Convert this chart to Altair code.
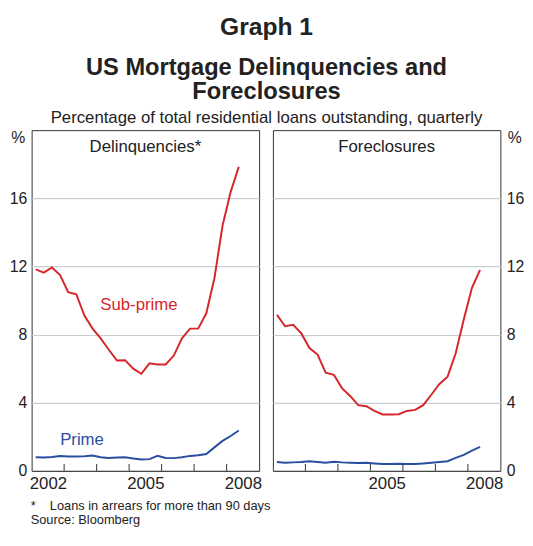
import altair as alt
import pandas as pd

# ---------------- data ----------------
YEARS = [2002, 2003, 2004, 2005, 2006, 2007, 2008]
QUARTERS = [1, 2, 3, 4]
N_OBS = 26  # 2002 Q1 .. 2008 Q2

DELINQ_SUBPRIME = [11.83, 11.64, 11.94, 11.50, 10.49, 10.36, 9.12, 8.35, 7.78, 7.11,
                   6.48, 6.50, 6.00, 5.70, 6.31, 6.25, 6.25, 6.77, 7.78, 8.35,
                   8.35, 9.25, 11.31, 14.40, 16.38, 17.85]
DELINQ_PRIME = [0.80, 0.78, 0.82, 0.88, 0.84, 0.84, 0.86, 0.90, 0.80, 0.76,
                0.78, 0.80, 0.73, 0.67, 0.69, 0.88, 0.76, 0.75, 0.80, 0.88,
                0.92, 0.99, 1.38, 1.76, 2.05, 2.37]
FORECL_SUBPRIME = [9.16, 8.49, 8.58, 8.07, 7.21, 6.83, 5.77, 5.64, 4.86, 4.40,
                   3.86, 3.80, 3.52, 3.31, 3.31, 3.33, 3.52, 3.58, 3.86, 4.47,
                   5.10, 5.53, 6.90, 8.90, 10.75, 11.80]
FORECL_PRIME = [0.52, 0.48, 0.50, 0.52, 0.57, 0.52, 0.48, 0.54, 0.50, 0.48,
                0.46, 0.48, 0.44, 0.40, 0.40, 0.42, 0.40, 0.40, 0.44, 0.48,
                0.52, 0.57, 0.76, 0.94, 1.19, 1.41]

SERIES = ["Sub-prime", "Prime"]
PANEL_TITLES = ["Delinquencies*", "Foreclosures"]
Y_TICKS = [0, 4, 8, 12, 16]
X_TICK_YEARS = [2003, 2004, 2005, 2006, 2007, 2008]
LEFT_X_LABELS = [2002, 2005, 2008]
RIGHT_X_LABELS = [2005, 2008]

TITLE_TOP = "Graph 1"
TITLE_MAIN = ["US Mortgage Delinquencies and", "Foreclosures"]
SUBTITLE = "Percentage of total residential loans outstanding, quarterly"
FOOTNOTES = ["*\u00a0\u00a0\u00a0\u00a0Loans in arrears for more than 90 days", "Source: Bloomberg"]

# ---------------- build tables ----------------
dates = []
for y in YEARS:
    for q in QUARTERS:
        dates.append(y + (q - 0.5) / 4)
dates = dates[:N_OBS]


def long_table(sub, prime):
    rows = []
    for d, v in zip(dates, sub):
        rows.append({"date": d, "value": v, "series": SERIES[0]})
    for d, v in zip(dates, prime):
        rows.append({"date": d, "value": v, "series": SERIES[1]})
    return pd.DataFrame(rows)


df_del = long_table(DELINQ_SUBPRIME, DELINQ_PRIME)
df_for = long_table(FORECL_SUBPRIME, FORECL_PRIME)
df_labels = pd.DataFrame({"label": SERIES, "series": SERIES,
                          "x": [2005.3, 2003.55], "y": [9.75, 1.8]})

RED = "#d7262b"
BLUE = "#2b4f9f"
FONT = "Liberation Sans"
W, H = 231, 346
FS = 17
YFS = 16

color_scale = alt.Scale(domain=SERIES, range=[RED, BLUE])
x_scale = alt.Scale(domain=[2002, 2009], nice=False, zero=False)
y_scale = alt.Scale(domain=[0, 20], nice=False)


def panel(df, title, side, x_labels, foot):
    x_axis = alt.Axis(values=x_labels, format="d", labelOffset=16.5, ticks=False, grid=False,
                      domainColor="#333", labelFontSize=FS, labelPadding=5, title=None,
                      labelFlush=False, labelOverlap=False, labelColor="#222")
    y_axis = alt.Axis(values=Y_TICKS, orient=side, ticks=False, domain=False, grid=True,
                      gridColor="#c9cdd1", gridWidth=1.2, labelFontSize=YFS,
                      labelPadding=5 if side == "left" else 6, labelColor="#222",
                      title="%", titleAngle=0, titleFontSize=YFS, titleFontWeight="normal",
                      titleAlign="center", titleBaseline="middle", titleColor="#222",
                      titleX=-14 if side == "left" else 14, titleY=8)
    lines = alt.Chart(df).mark_line(strokeWidth=2).encode(
        x=alt.X("date:Q", scale=x_scale, axis=x_axis),
        y=alt.Y("value:Q", scale=y_scale, axis=y_axis),
        color=alt.Color("series:N", scale=color_scale, legend=None),
        detail="series:N",
    )
    ticks = alt.Chart(pd.DataFrame({"year": X_TICK_YEARS})).mark_rule(
        color="#333", strokeWidth=1).encode(
        x=alt.X("year:Q", scale=x_scale), y=alt.value(H), y2=alt.value(H - 7))
    ptitle = alt.Chart(pd.DataFrame({"t": [title]})).mark_text(
        fontSize=FS, font=FONT, color="#222", baseline="middle").encode(
        x=alt.value(W / 2), y=alt.value(17), text="t:N")
    layers = [lines, ticks, ptitle]
    if foot:
        lab = alt.Chart(df_labels).mark_text(fontSize=FS, font=FONT, baseline="middle").encode(
            x=alt.X("x:Q", scale=x_scale), y=alt.Y("y:Q", scale=y_scale), text="label:N",
            color=alt.Color("series:N", scale=color_scale, legend=None))
        layers.append(lab)
        for i, note in enumerate(FOOTNOTES):
            fn = alt.Chart(pd.DataFrame({"t": [note]})).mark_text(
                fontSize=13, font=FONT, color="#222", align="left",
                baseline="alphabetic").encode(
                x=alt.value(-1), y=alt.value(H + 40 + 14 * i), text="t:N")
            layers.append(fn)
    return alt.layer(*layers).properties(width=W, height=H)


left = panel(df_del, PANEL_TITLES[0], "left", LEFT_X_LABELS, True)
right = panel(df_for, PANEL_TITLES[1], "right", RIGHT_X_LABELS, False)

inner = alt.hconcat(left, right, spacing=0).properties(
    title=alt.TitleParams(text=TITLE_MAIN, subtitle=SUBTITLE, fontSize=24, font=FONT,
                          fontWeight="bold", lineHeight=25, subtitleFontSize=FS,
                          subtitleFont=FONT, subtitleColor="#222", subtitlePadding=6,
                          color="#222", anchor="middle", offset=4))

chart = alt.vconcat(inner).properties(
    title=alt.TitleParams(text=TITLE_TOP, fontSize=25, font=FONT, fontWeight="bold",
                          color="#222", anchor="middle", offset=16),
    padding={"left": 0, "top": 3, "right": 0, "bottom": 0},
).configure(font=FONT).configure_view(stroke="#333", strokeWidth=1).configure_concat(spacing=0)

chart.save("out.html", embed_options={"renderer": "svg", "actions": False})
